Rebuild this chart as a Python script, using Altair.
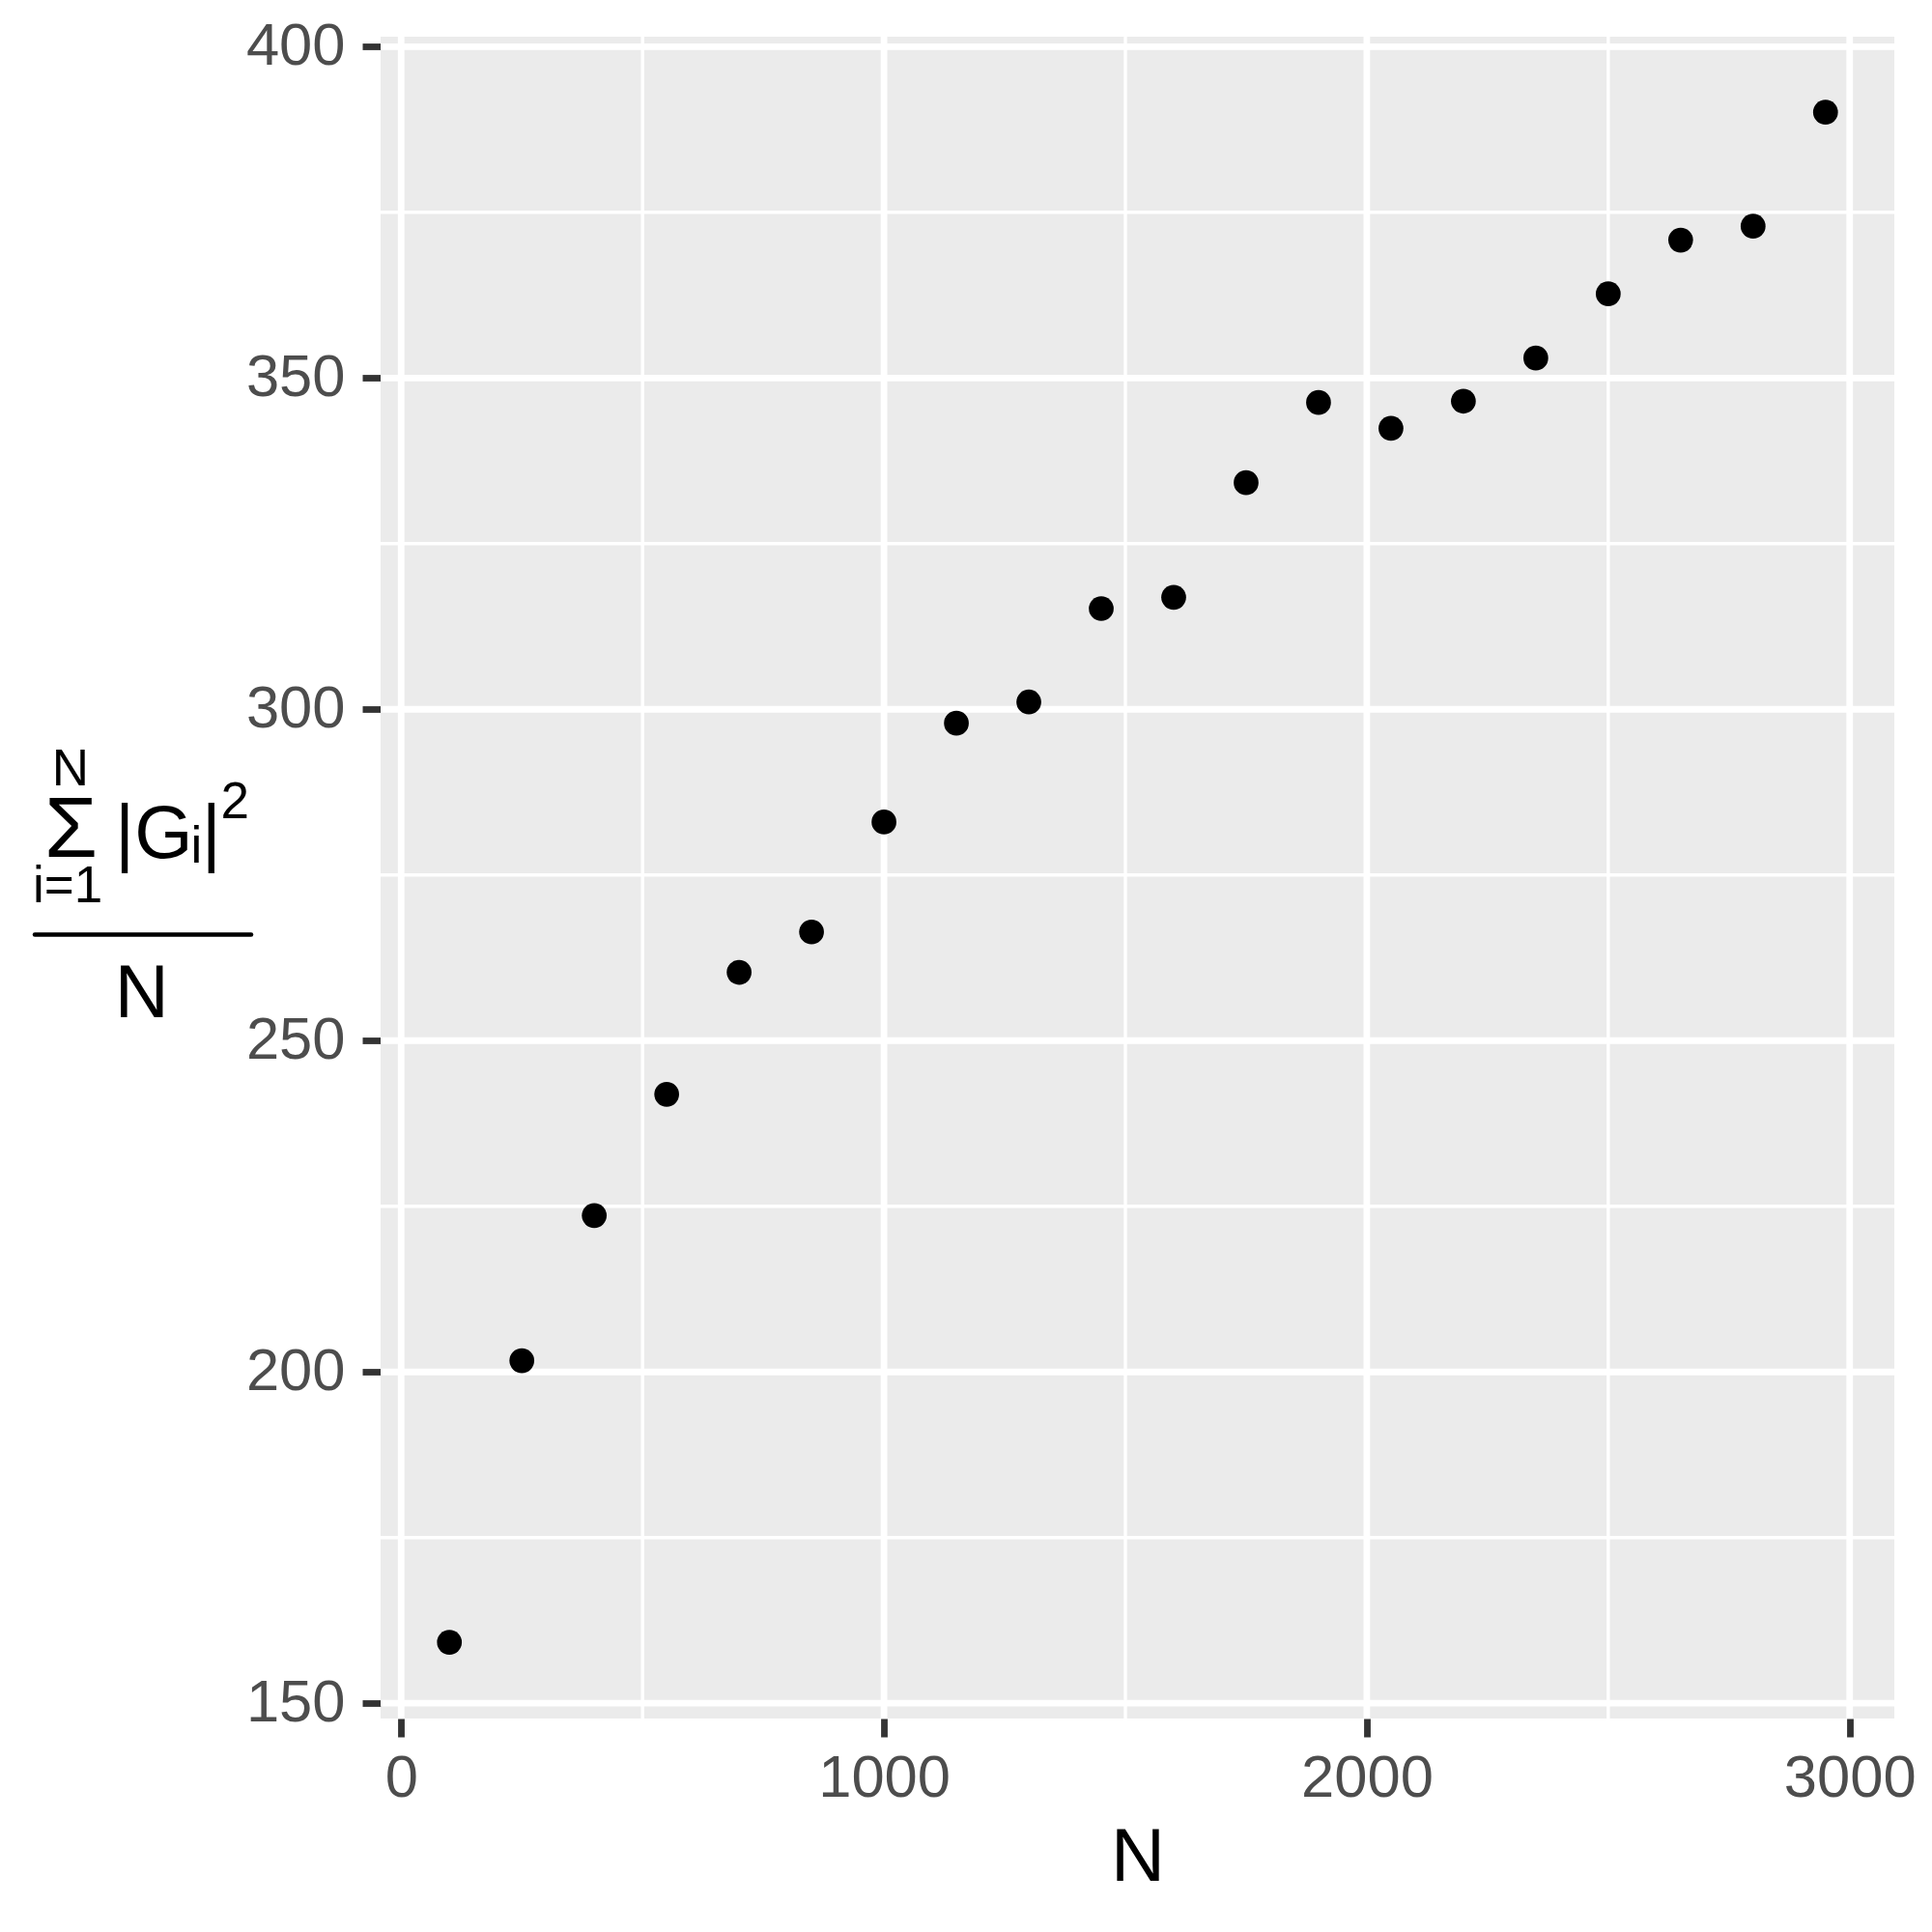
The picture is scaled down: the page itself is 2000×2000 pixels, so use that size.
import altair as alt
import pandas as pd

# Data
n_values = [100, 250, 400, 550, 700, 850, 1000, 1150, 1300, 1450,
            1600, 1750, 1900, 2050, 2200, 2350, 2500, 2650, 2800, 2950]
mean_sq = [159.2, 201.7, 223.6, 241.9, 260.3, 266.4, 283.0, 297.9, 301.1, 315.2,
           316.9, 334.2, 346.3, 342.4, 346.5, 353.0, 362.7, 370.8, 372.9, 390.1]

x_major = [0, 1000, 2000, 3000]
x_minor = [500, 1500, 2500]
y_major = [150, 200, 250, 300, 350, 400]
y_minor = [175, 225, 275, 325, 375]

X_DOMAIN = [-42.5, 3092.5]
Y_DOMAIN = [147.7, 401.5]

FONT = "Liberation Sans"
W, H = 1567, 1741
MAJOR_W = 6.8
MINOR_W = 3.4

df = pd.DataFrame({"N": n_values, "v": mean_sq})

xs = alt.Scale(domain=X_DOMAIN, nice=False, zero=False)
ys = alt.Scale(domain=Y_DOMAIN, nice=False, zero=False)

x_axis = alt.Axis(values=x_major, title="N", grid=False, domain=False,
                  tickColor="#333333", tickWidth=MAJOR_W, tickSize=19,
                  labelFont=FONT, labelFontSize=61.5, labelColor="#4D4D4D",
                  labelBaseline="alphabetic", labelPadding=61,
                  labelFlush=False, labelOverlap=False, format="d",
                  titleFont=FONT, titleFontSize=77.5, titleColor="black",
                  titleFontWeight="normal", titleBaseline="alphabetic",
                  titleY=167, titleAnchor="middle")
y_axis = alt.Axis(values=y_major, title="", grid=False, domain=False,
                  tickColor="#333333", tickWidth=MAJOR_W, tickSize=19,
                  labelFont=FONT, labelFontSize=61.5, labelColor="#4D4D4D",
                  labelPadding=18, labelFlush=False, labelOverlap=False,
                  format="d")

def vrules(vals, width):
    return alt.Chart(pd.DataFrame({"g": vals})).mark_rule(
        color="white", strokeWidth=width
    ).encode(x=alt.X("g:Q", scale=xs, axis=x_axis))

def hrules(vals, width):
    return alt.Chart(pd.DataFrame({"g": vals})).mark_rule(
        color="white", strokeWidth=width
    ).encode(y=alt.Y("g:Q", scale=ys, axis=y_axis))

points = alt.Chart(df).mark_circle(color="black", opacity=1, size=660).encode(
    x=alt.X("N:Q", scale=xs, axis=x_axis),
    y=alt.Y("v:Q", scale=ys, axis=y_axis),
)

OX, OY = 394, 38
one = pd.DataFrame({"a": [0]})

def txt(s, x, y, size, align="left", font=FONT):
    return alt.Chart(pd.DataFrame({"t": [s]})).mark_text(
        align=align, baseline="alphabetic", font=font, fontSize=size,
        color="black"
    ).encode(text="t:N", x=alt.value(x - OX), y=alt.value(y - OY))

title_parts = [
    txt("N", 73, 813, 53, "center"),
    txt("\u03a3", 73.5, 887, 89, "center"),
    txt("|G", 119, 888, 77.5),
    txt("i", 197.5, 893, 53),
    txt("|", 208.7, 888, 77.5),
    txt("2", 228.4, 847, 53),
    txt("i=1", 70, 934, 53, "center"),
    txt("N", 146.7, 1053, 77.5, "center"),
]

frac_line = alt.Chart(one).mark_rule(color="black", strokeWidth=4.5, strokeCap="round").encode(
    x=alt.value(36 - OX), x2=alt.value(260 - OX), y=alt.value(967.5 - OY)
)

chart = alt.layer(
    vrules(x_minor, MINOR_W), hrules(y_minor, MINOR_W),
    vrules(x_major, MAJOR_W), hrules(y_major, MAJOR_W),
    points, frac_line, *title_parts
).properties(
    width=W, height=H,
    padding={"left": OX - 8, "top": OY - 8, "right": 31, "bottom": 213},
    autosize=alt.AutoSizeParams(type="none"),
    background="white",
).configure_view(fill="#EBEBEB", strokeWidth=0)

chart.save("out.html", embed_options={"renderer": "svg", "actions": False})
